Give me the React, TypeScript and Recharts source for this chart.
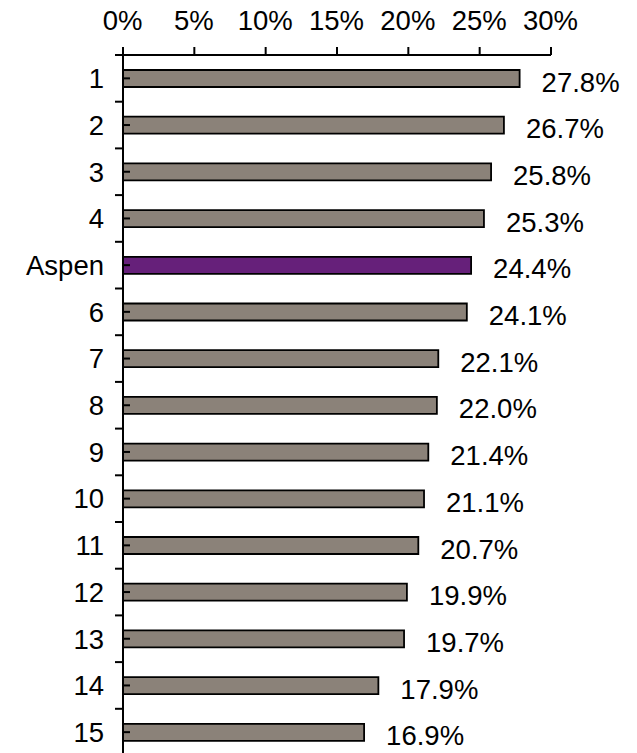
import React from 'react';
import { BarChart, Bar, XAxis, YAxis, Cell, LabelList } from 'recharts';

const categories = ['1', '2', '3', '4', 'Aspen', '6', '7', '8', '9', '10', '11', '12', '13', '14', '15'];
const values = [27.8, 26.7, 25.8, 25.3, 24.4, 24.1, 22.1, 22.0, 21.4, 21.1, 20.7, 19.9, 19.7, 17.9, 16.9];
const xTicks = [0, 5, 10, 15, 20, 25, 30];
const highlight = 'Aspen';

const data = categories.map((c, i) => ({ name: c, value: values[i] }));

const CHART_W = 637;
const CHART_H = 780;
const MARGIN = { top: 0, right: 86, bottom: 24.5, left: 0 };
const XAXIS_H = 55;
const YAXIS_W = 123;
const PLOT_H = CHART_H - MARGIN.top - MARGIN.bottom - XAXIS_H;
const BAND = PLOT_H / categories.length;
const FONT = '"Liberation Sans", Arial, sans-serif';
const FS = 27.5;
const GRAY = '#8B8279';
const PURPLE = '#66207A';

const XTick = (props: any) => {
  const { x, payload } = props;
  return (
    <text x={x - 0.5} y={30} textAnchor="middle" fontSize={FS} fontFamily={FONT} fill="#000">
      {payload.value}%
    </text>
  );
};

const YTick = (props: any) => {
  const { y, payload } = props;
  const cy = payload && typeof payload.coordinate === 'number' ? payload.coordinate : y;
  const ax = YAXIS_W;
  return (
    <g>
      <text x={104} y={cy + 9.8} textAnchor="end" fontSize={FS} fontFamily={FONT} fill="#000">
        {payload.value}
      </text>
      <line x1={ax} x2={ax + 7} y1={cy} y2={cy} stroke="#000" strokeWidth={2} />
      <line x1={ax - 8} x2={ax} y1={cy - BAND / 2} y2={cy - BAND / 2} stroke="#000" strokeWidth={2} />
    </g>
  );
};

const ValueLabel = (props: any) => {
  const { x, y, width, height, value } = props;
  const v = Number(value);
  return (
    <text
      x={Number(x) + Number(width) + 22}
      y={Number(y) + Number(height) / 2 + 13}
      textAnchor="start"
      fontSize={FS}
      fontFamily={FONT}
      fill="#000"
    >
      {v.toFixed(1)}%
    </text>
  );
};

export default function App() {
  return (
    <div
      style={{
        position: 'fixed',
        left: 0,
        top: 0,
        width: 637,
        height: 753,
        overflow: 'hidden',
        background: '#fff',
      }}
    >
      <BarChart width={CHART_W} height={CHART_H} data={data} layout="vertical" margin={MARGIN} barCategoryGap={0}>
        <XAxis
          type="number"
          orientation="top"
          domain={[0, 30]}
          ticks={xTicks}
          height={XAXIS_H}
          tick={<XTick />}
          tickSize={8}
          tickLine={{ stroke: '#000', strokeWidth: 2 }}
          axisLine={{ stroke: '#000', strokeWidth: 2 }}
          interval={0}
          allowDataOverflow
        />
        <YAxis
          type="category"
          dataKey="name"
          width={YAXIS_W}
          tick={<YTick />}
          tickLine={false}
          tickSize={0}
          tickMargin={0}
          axisLine={{ stroke: '#000', strokeWidth: 2 }}
          interval={0}
        />
        <Bar dataKey="value" barSize={17} stroke="#000" strokeWidth={1.8} isAnimationActive={false}>
          {data.map((d) => (
            <Cell key={d.name} fill={d.name === highlight ? PURPLE : GRAY} />
          ))}
          <LabelList dataKey="value" content={<ValueLabel />} />
        </Bar>
      </BarChart>
    </div>
  );
}
